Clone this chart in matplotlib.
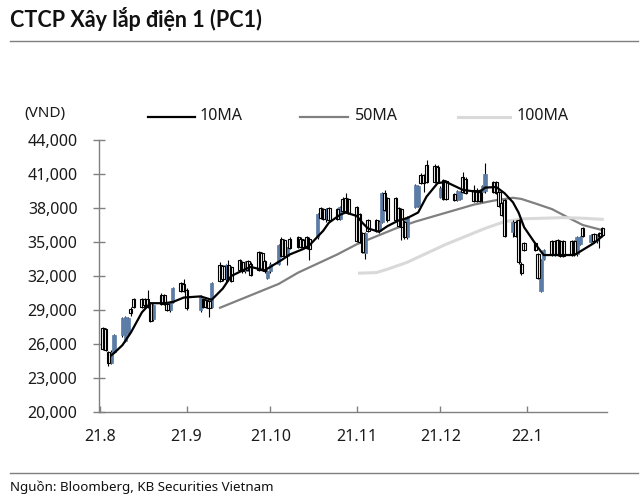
import matplotlib
matplotlib.use("Agg")
import matplotlib.pyplot as plt
import matplotlib.dates as mdates
from matplotlib.lines import Line2D
import numpy as np
import pandas as pd

plt.rcParams['font.family'] = ['Noto Sans', 'DejaVu Sans']

# ---------------- data ----------------
title = "CTCP Xây lắp điện 1 (PC1)"
source = "Nguồn: Bloomberg, KB Securities Vietnam"
unit = "(VND)"

holidays = ['2021-09-02', '2021-09-03', '2022-01-03']
start_date, end_date = '2021-08-02', '2022-01-28'

opens = [
    27400, 27300, 25300, 24300, 25300,
    26800, 26300, 27000, 29100, 30000,
    30000, 30000, 30000, 29600, 28200,
    30300, 30300, 29500, 29000, 29700,
    31400, 31300, 30800,
    29000, 30000, 29900, 29800, 29300,
    33000, 32900, 31700, 33000, 32800,
    33400, 33200, 32400, 33300, 33100,
    34100, 34000, 33300, 31800, 32400,
    33100, 35300, 35200, 33800, 35300,
    35400, 35300, 35200, 35400, 35300,
    35400, 38000, 37900, 37000, 38000,
    37900, 37000, 38800, 38900, 38800,
    38100, 37500, 35800, 34000, 36900,
    36900, 36000, 36800, 39300, 38900,
    38900, 38000, 37900, 36800, 35400,
    38100, 38200, 40900, 40900, 41800,
    41700, 41600, 39000, 40500, 40400,
    39200, 38700, 38800, 40700, 40600,
    39600, 39500, 39600, 39400, 39500,
    40300, 40300, 39400, 38400, 38700,
    35900, 36800, 36900, 33100, 34900,
    34900, 33900, 30700, 33500,
    35100, 35100, 35200, 35100, 35100,
    35100, 35100, 33900, 34800, 36200,
    35000, 35700, 35100, 35800, 36200,
]
highs = [
    27500, 27400, 25400, 25500, 26900,
    28400, 28500, 28400, 29300, 30100,
    30100, 30100, 30800, 29700, 29500,
    30500, 30400, 29600, 29800, 31000,
    31500, 31700, 30900,
    30300, 30100, 30000, 29900, 31500,
    33200, 33000, 33100, 33400, 32900,
    33500, 33300, 33300, 33400, 33200,
    34200, 34100, 33400, 32500, 33200,
    34800, 35400, 35300, 34600, 35400,
    35500, 35400, 35300, 35500, 35400,
    37600, 38100, 38000, 38000, 38100,
    38000, 38200, 39000, 39300, 38900,
    38200, 37600, 35900, 35900, 37000,
    37000, 36900, 39400, 39600, 39000,
    39000, 38100, 38000, 36900, 37300,
    40100, 40000, 41100, 41000, 42200,
    41900, 41800, 39900, 40600, 40500,
    39300, 39600, 39500, 41200, 40700,
    40000, 39800, 39700, 40000, 42000,
    40400, 40400, 39500, 38500, 38800,
    36900, 36900, 37000, 33200, 35000,
    35000, 34000, 33500, 34400,
    35200, 35200, 35300, 35200, 35200,
    35200, 35200, 35500, 35500, 36300,
    35700, 35800, 35700, 35900, 36300,
]
lows = [
    25500, 25400, 24100, 24200, 25200,
    26600, 26200, 26900, 28500, 29200,
    29200, 29300, 29200, 27900, 28000,
    29400, 29400, 28900, 28800, 29600,
    30600, 30600, 29000,
    28800, 29200, 29200, 28400, 29200,
    31500, 31600, 31500, 31600, 31500,
    32400, 32300, 32300, 32400, 32000,
    32400, 32400, 32300, 31700, 32300,
    33000, 33700, 33700, 33000, 34400,
    34500, 34500, 34500, 34400, 33400,
    35300, 37000, 36900, 36800, 36800,
    36900, 36900, 37600, 37600, 37500,
    35000, 34900, 34000, 33500, 35900,
    35900, 35800, 36700, 37700, 36800,
    36800, 36300, 35200, 35300, 35300,
    38000, 38100, 40100, 39400, 40200,
    40200, 40200, 38900, 38700, 38700,
    38600, 38600, 38700, 39300, 39200,
    38500, 38500, 38500, 38500, 39300,
    39300, 39200, 38100, 37300, 35400,
    35400, 35400, 33100, 32100, 34200,
    34200, 31700, 30600, 33400,
    33800, 33800, 33800, 33700, 33700,
    33800, 33800, 33800, 34700, 35400,
    34900, 35000, 34900, 34500, 35500,
]
closes = [
    25600, 25500, 24300, 25300, 26800,
    28300, 28400, 28300, 28700, 29300,
    29300, 29400, 29300, 28000, 29400,
    29500, 29500, 29000, 29700, 30900,
    30700, 30700, 29200,
    30200, 29300, 29300, 29200, 31400,
    31600, 31700, 33000, 31700, 31600,
    32500, 32400, 33200, 32500, 32100,
    32500, 32500, 32400, 32400, 33100,
    34700, 33800, 33800, 34500, 34500,
    34600, 34600, 34600, 34500, 34400,
    37500, 37100, 37000, 37900, 36900,
    37000, 38100, 37700, 37700, 37600,
    35100, 35000, 34100, 35800, 36000,
    36000, 36800, 39300, 37800, 36900,
    36900, 36400, 36300, 35400, 37200,
    40000, 39900, 40200, 40200, 40300,
    40300, 40300, 39800, 38800, 38800,
    38700, 39500, 39400, 39400, 39300,
    38600, 38600, 38600, 39900, 41000,
    39400, 39300, 38200, 37400, 35500,
    36800, 35500, 33200, 32300, 34300,
    34300, 31800, 33400, 34300,
    33900, 33900, 33900, 33800, 33800,
    33900, 33900, 35400, 35400, 35500,
    35600, 35100, 35600, 35500, 35600,
]

ma10_dates = ['2021-08-05', '2021-08-06', '2021-08-09', '2021-08-12', '2021-08-16',
              '2021-08-19', '2021-08-24', '2021-08-27', '2021-08-31', '2021-09-06',
              '2021-09-10', '2021-09-14', '2021-09-17', '2021-09-22', '2021-09-24',
              '2021-09-29', '2021-10-01', '2021-10-05', '2021-10-08', '2021-10-13',
              '2021-10-15', '2021-10-20', '2021-10-22', '2021-10-26', '2021-10-28',
              '2021-11-01', '2021-11-03', '2021-11-05', '2021-11-09', '2021-11-12',
              '2021-11-16', '2021-11-19', '2021-11-23', '2021-11-26', '2021-11-30',
              '2021-12-03', '2021-12-09', '2021-12-15', '2021-12-17', '2021-12-21',
              '2021-12-24', '2021-12-27', '2021-12-29', '2021-12-31', '2022-01-05',
              '2022-01-07', '2022-01-12', '2022-01-18', '2022-01-21', '2022-01-25',
              '2022-01-28']
ma10 = [25000, 25200, 25900, 27000, 28800,
        29600, 29600, 29700, 30100, 30200,
        29900, 30900, 32000, 32600, 32800,
        32500, 32800, 33400, 33900, 34400,
        34700, 36000, 36700, 37400, 37600,
        37300, 36700, 36200, 35900, 36400,
        36900, 37100, 37600, 39000, 40200,
        40300, 39600, 39400, 39800, 39850,
        39300, 38500, 37600, 36300, 34500,
        33850, 33850, 33850, 34300, 34900,
        35500]

ma50_dates = ['2021-09-13', '2021-09-20', '2021-09-27', '2021-10-04', '2021-10-11',
              '2021-10-18', '2021-10-25', '2021-11-01', '2021-11-08', '2021-11-15',
              '2021-11-22', '2021-11-29', '2021-12-06', '2021-12-13', '2021-12-20',
              '2021-12-27', '2021-12-30', '2022-01-04', '2022-01-10', '2022-01-17',
              '2022-01-21', '2022-01-28']
ma50 = [29200, 29900, 30600, 31300, 32300,
        33100, 33900, 34800, 35500, 36200,
        36800, 37300, 37800, 38300, 38650,
        38900, 38800, 38400, 37900, 37000,
        36500, 36050]

ma100_dates = ['2021-11-02', '2021-11-08', '2021-11-12', '2021-11-19', '2021-11-26',
               '2021-12-03', '2021-12-10', '2021-12-17', '2021-12-24', '2021-12-31',
               '2022-01-07', '2022-01-14', '2022-01-21', '2022-01-28']
ma100 = [32250, 32300, 32600, 33200, 34000,
         34800, 35500, 36200, 36800, 37050,
         37100, 37150, 37100, 37000]

xtick_dates = ['2021-08-01', '2021-09-01', '2021-10-01', '2021-11-01', '2021-12-01', '2022-01-01']
xtick_labels = ['21.8', '21.9', '21.10', '21.11', '21.12', '22.1']
yticks = [20000, 23000, 26000, 29000, 32000, 35000, 38000, 41000, 44000]
series_names = ['10MA', '50MA', '100MA']

# ---------------- figure ----------------
W, H = 640, 498
fig = plt.figure(figsize=(W / 100, H / 100), dpi=100)
ax = fig.add_axes([99 / W, (H - 412) / H, (607 - 99) / W, (412 - 140) / H])

dates = pd.bdate_range(start_date, end_date)
dates = dates[~dates.isin(pd.to_datetime(holidays))]
x = mdates.date2num(dates)
o = np.array(opens); h = np.array(highs); l = np.array(lows); c = np.array(closes)

blue = '#5a7ca6'
up = c >= o
ax.vlines(x[up], l[up], h[up], color='black', lw=0.8, zorder=2)
ax.bar(x[up], c[up] - o[up], bottom=o[up], width=1.2, color=blue,
       edgecolor=blue, lw=0.5, zorder=3)
ax.bar(x[~up], o[~up] - c[~up], bottom=c[~up], width=1.2, color='white',
       edgecolor='black', lw=0.8, zorder=3)
ax.vlines(x[~up], l[~up], h[~up], color='black', lw=0.8, zorder=3.5)

ma_colors = ['black', '#808080', '#d9d9d9']
ma_lw = [1.6, 1.6, 2.2]
for d, v, col, lw in zip([ma10_dates, ma50_dates, ma100_dates], [ma10, ma50, ma100], ma_colors, ma_lw):
    ax.plot(mdates.date2num(pd.to_datetime(d)), v, color=col, lw=lw, zorder=4 if col == 'black' else 1.5)

x0 = mdates.date2num(pd.Timestamp('2021-08-01'))
ax.set_xlim(x0 - 0.4, x0 + 181.7)
ax.set_ylim(20000, 44000)
ax.set_yticks(yticks)
ax.set_yticklabels([f"{v:,}" for v in yticks])
ax.set_xticks(mdates.date2num(pd.to_datetime(xtick_dates)))
ax.set_xticklabels(xtick_labels)

for s in ['top', 'right']:
    ax.spines[s].set_visible(False)
for s in ['left', 'bottom']:
    ax.spines[s].set_color('#808080')
    ax.spines[s].set_linewidth(1.0)
ax.tick_params(axis='y', direction='inout', length=9, width=1, color='#808080',
               labelsize=11.5, pad=11, labelcolor='#1a1a1a')
ax.tick_params(axis='x', direction='in', length=4, width=1, color='#808080',
               labelsize=11.5, pad=12, labelcolor='#1a1a1a')

# header / footer
fig.text(10 / W, 1 - 19 / H, title, fontsize=15.5, fontweight='bold', va='center', ha='left',
         color='#111111', family=['Lato', 'DejaVu Sans'])
fig.add_artist(Line2D([10 / W, 638 / W], [1 - 41 / H] * 2, color='#7f7f7f', lw=1.0))
fig.add_artist(Line2D([10 / W, 638 / W], [1 - 473 / H] * 2, color='#7f7f7f', lw=1.0))
fig.text(10 / W, 1 - 487 / H, source, fontsize=9.6, va='center', ha='left', color='#111111')

# unit and legend
fig.text(45 / W, 1 - 113 / H, unit, fontsize=11, va='center', ha='center', color='#1a1a1a')
leg_x = [(148, 195, 200), (300, 348, 355), (458, 510, 517)]
for (a, b, t), name, col, lw in zip(leg_x, series_names, ma_colors, ma_lw):
    fig.add_artist(Line2D([a / W, b / W], [1 - 117 / H] * 2, color=col, lw=lw))
    fig.text(t / W, 1 - 116 / H, name, fontsize=11.5, va='center', ha='left', color='#1a1a1a')

fig.savefig('out.png', dpi=100)
